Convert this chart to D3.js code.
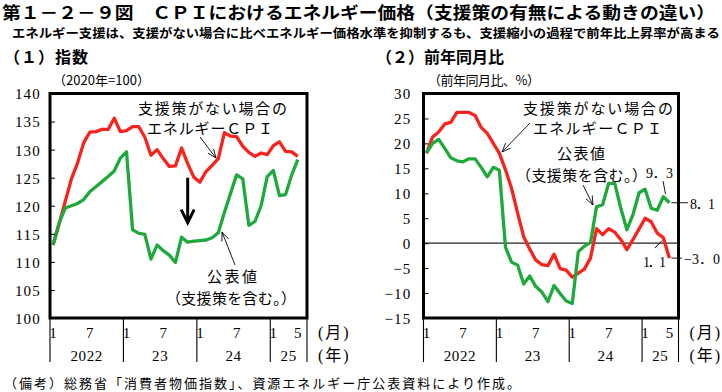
<!DOCTYPE html>
<html>
<head>
<meta charset="utf-8">
<script src="https://cdn.jsdelivr.net/npm/d3@7"></script>
<style>
  body { margin: 0; background: #fff; }
  svg text { font-family: "Noto Sans CJK JP", sans-serif; fill: #000; }
  .num { font-family: "Liberation Serif", "Noto Sans CJK JP", serif; }
</style>
</head>
<body>
<div id="chart"></div>
<script>
// axis categories: Jan 2022 .. Jun 2025 (data runs to May 2025)
const slotCount = 42;
const yearLabels = ["2022", "23", "24", "25"];
const yearStart = [0, 12, 24, 36];
const monthTicks = [[0, "1"], [6, "7"], [12, "1"], [18, "7"], [24, "1"], [30, "7"], [36, "1"], [40, "5"]];

// (1) index, 2020=100
const indexNoSupport = [
  113.0, 116.8, 120.8, 124.8, 127.6, 131.2, 133.1, 133.2, 133.6, 133.6, 135.6, 133.2,
  133.4, 134.1, 134.1, 132.2, 129.0, 130.0, 128.4, 127.0, 127.1, 130.3, 127.5, 125.1,
  124.2, 126.1, 127.2, 128.4, 133.0, 132.4, 132.3, 130.6, 129.5, 128.8, 129.4, 129.1,
  130.7, 131.4, 129.7, 129.6, 128.8
];
const indexOfficial = [
  113.0, 117.0, 119.6, 120.0, 120.4, 121.1, 122.5, 123.4, 124.3, 125.2, 126.2, 128.5,
  129.6, 115.7, 115.1, 114.9, 110.5, 113.0, 112.0, 111.2, 109.9, 114.4, 113.5, 113.7,
  113.8, 113.9, 114.3, 115.2, 118.8, 122.2, 125.5, 124.8, 116.5, 117.2, 120.0, 125.2,
  126.3, 121.8, 122.0, 125.5, 128.2
];
const indexTicks = [100, 105, 110, 115, 120, 125, 130, 135, 140];

// (2) year-on-year, %
const yoyNoSupport = [
  18.0, 21.3, 22.3, 23.9, 24.2, 26.2, 26.2, 26.2, 25.6, 23.2, 22.0, 20.0,
  18.0, 14.7, 11.0, 6.0, 1.3, -1.2, -3.4, -4.3, -4.5, -2.2, -5.1, -5.4,
  -6.8, -6.0, -5.2, -3.0, 2.9, 1.7, 2.9, 2.2, 0.7, -1.3, 0.7, 2.8,
  5.0, 4.3, 2.0, 1.1, -3.0
];
const yoyOfficial = [
  18.1, 20.0, 20.8, 19.0, 17.1, 16.5, 16.3, 16.9, 16.9, 15.2, 13.3, 15.2,
  14.6, -0.8, -3.8, -4.4, -8.2, -6.6, -8.7, -9.8, -11.7, -8.5, -10.1, -11.6,
  -12.1, -1.7, -0.6, 0.1, 7.3, 7.7, 12.0, 12.0, 7.0, 2.7, 5.7, 10.1,
  10.8, 7.0, 6.6, 9.3, 8.1
];
const yoyTicks = [-15, -10, -5, 0, 5, 10, 15, 20, 25, 30];

const RED = "#f7231c";
const GREEN = "#1fa83c";

const svg = d3.select("#chart")
  .append("svg")
  .attr("width", 722)
  .attr("height", 392);

svg.append("rect").attr("width", 722).attr("height", 392).attr("fill", "#fff");

const defs = svg.append("defs");
defs.append("marker")
  .attr("id", "open")
  .attr("viewBox", "0 -5 10 10")
  .attr("refX", 10)
  .attr("refY", 0)
  .attr("markerUnits", "userSpaceOnUse")
  .attr("markerWidth", 9)
  .attr("markerHeight", 9)
  .attr("orient", "auto")
  .append("path")
  .attr("d", "M0,-4L10,0L0,4")
  .attr("fill", "none")
  .attr("stroke", "#000")
  .attr("stroke-width", 0.9);

// headings
svg.append("text")
  .attr("x", 2).attr("y", 18.5)
  .attr("textLength", 713).attr("lengthAdjust", "spacingAndGlyphs")
  .style("font-size", "16.5px").style("font-weight", "bold")
  .text("第１－２－９図　ＣＰＩにおけるエネルギー価格（支援策の有無による動きの違い）");

svg.append("text")
  .attr("x", 12).attr("y", 37.5)
  .attr("textLength", 708).attr("lengthAdjust", "spacingAndGlyphs")
  .style("font-size", "12.5px").style("font-weight", "bold")
  .text("エネルギー支援は、支援がない場合に比べエネルギー価格水準を抑制するも、支援縮小の過程で前年比上昇率が高まる");

svg.append("text")
  .attr("x", 4).attr("y", 63)
  .attr("textLength", 84)
  .style("font-size", "16px").style("font-weight", "bold")
  .text("（１）指数");

svg.append("text")
  .attr("x", 376).attr("y", 63)
  .attr("textLength", 128)
  .style("font-size", "16px").style("font-weight", "bold")
  .text("（２）前年同月比");

svg.append("text")
  .attr("x", 53).attr("y", 85)
  .attr("textLength", 97)
  .style("font-size", "13px")
  .text("（2020年=100）");

svg.append("text")
  .attr("x", 428).attr("y", 85)
  .attr("textLength", 112)
  .style("font-size", "13px")
  .text("（前年同月比、%）");

svg.append("text")
  .attr("x", 4).attr("y", 388)
  .attr("textLength", 516)
  .style("font-size", "13px")
  .text("（備考）総務省「消費者物価指数」、資源エネルギー庁公表資料により作成。");

function drawPanel(cfg) {
  const g = svg.append("g");
  const x = d3.scaleBand().domain(d3.range(slotCount)).range([cfg.left, cfg.right]);
  const cx = i => x(i) + x.bandwidth() / 2;
  const y = d3.scaleLinear().domain(cfg.domain).range([318, 93.5]);

  if (cfg.zero) {
    g.append("line")
      .attr("x1", cfg.left).attr("x2", cfg.right)
      .attr("y1", y(0)).attr("y2", y(0))
      .attr("stroke", "#222").attr("stroke-width", 1.2);
  }

  const line = d3.line().x((d, i) => cx(i)).y(d => y(d));

  g.append("path")
    .datum(cfg.red)
    .attr("fill", "none")
    .attr("stroke", RED)
    .attr("stroke-width", 3.3)
    .attr("stroke-linejoin", "round")
    .attr("d", line);

  g.append("path")
    .datum(cfg.green)
    .attr("fill", "none")
    .attr("stroke", GREEN)
    .attr("stroke-width", 3.3)
    .attr("stroke-linejoin", "round")
    .attr("d", line);

  // y axis with inward ticks
  const yAxis = g.append("g")
    .attr("transform", `translate(${cfg.left},0)`)
    .call(d3.axisLeft(y)
      .tickValues(cfg.ticks)
      .tickSizeInner(-5)
      .tickSizeOuter(0)
      .tickPadding(cfg.pad)
      .tickFormat(d => d < 0 ? "−" + Math.abs(d) : d));
  yAxis.select(".domain").remove();
  yAxis.selectAll("line").attr("stroke", "#000").attr("stroke-width", 1);
  yAxis.selectAll("text")
    .attr("class", "num")
    .style("font-size", "15px")
    .style("letter-spacing", "1.2px")
    .attr("dy", "0.36em");

  // frame
  g.append("rect")
    .attr("x", cfg.left).attr("y", 93.5)
    .attr("width", cfg.right - cfg.left).attr("height", 318 - 93.5)
    .attr("fill", "none")
    .attr("stroke", "#000")
    .attr("stroke-width", 3);

  // year separators below axis
  const seps = yearStart.map(i => x(i)).concat([cfg.right]);
  g.selectAll(".sep")
    .data(seps)
    .join("line")
    .attr("class", "sep")
    .attr("x1", d => d).attr("x2", d => d)
    .attr("y1", 319).attr("y2", 362)
    .attr("stroke", "#000").attr("stroke-width", 1.1);

  g.selectAll(".mlab")
    .data(monthTicks)
    .join("text")
    .attr("class", "num mlab")
    .attr("x", d => cx(d[0]))
    .attr("y", 338)
    .attr("text-anchor", "middle")
    .style("font-size", "15px")
    .text(d => d[1]);

  g.selectAll(".ylab")
    .data(yearLabels)
    .join("text")
    .attr("class", "num ylab")
    .attr("x", (d, i) => (seps[i] + seps[i + 1]) / 2)
    .attr("y", 361)
    .attr("text-anchor", "middle")
    .style("font-size", "15px")
    .style("letter-spacing", "0.6px")
    .text(d => d);

  g.append("text")
    .attr("class", "num")
    .attr("x", cfg.right + 11).attr("y", 338)
    .style("font-size", "16px")
    .style("letter-spacing", "2px")
    .text("(月)");
  g.append("text")
    .attr("class", "num")
    .attr("x", cfg.right + 11).attr("y", 361)
    .style("font-size", "16px")
    .style("letter-spacing", "2px")
    .text("(年)");

  return { x: cx, y: y, g: g };
}

function label(g, x, y, len, txt, size) {
  g.append("text")
    .attr("x", x).attr("y", y)
    .attr("textLength", len)
    .style("font-size", (size || 15) + "px")
    .text(txt);
}

function arrow(g, x1, y1, x2, y2) {
  g.append("line")
    .attr("x1", x1).attr("y1", y1).attr("x2", x2).attr("y2", y2)
    .attr("stroke", "#000").attr("stroke-width", 0.9)
    .attr("marker-end", "url(#open)");
}

function leader(g, x1, y1, x2, y2) {
  g.append("line")
    .attr("x1", x1).attr("y1", y1).attr("x2", x2).attr("y2", y2)
    .attr("stroke", "#000").attr("stroke-width", 0.9);
}

// (1) index panel
const p1 = drawPanel({
  left: 50, right: 307, domain: [100, 140], ticks: indexTicks, pad: 9,
  red: indexNoSupport, green: indexOfficial, zero: false
});
label(p1.g, 138, 114, 149, "支援策がない場合の");
label(p1.g, 147, 134, 126, "エネルギーＣＰＩ");
arrow(p1.g, 200, 137, 216, 158);
label(p1.g, 207, 282, 50, "公表値");
label(p1.g, 166, 304, 130, "（支援策を含む。）");
arrow(p1.g, 235, 265, 222, 232);

// thick down arrow between the two index lines (Nov 2023)
const ax = p1.x(22);
p1.g.append("line")
  .attr("x1", ax).attr("x2", ax)
  .attr("y1", p1.y(125)).attr("y2", p1.y(117.2))
  .attr("stroke", "#000").attr("stroke-width", 3);
p1.g.append("polyline")
  .attr("points", [[ax - 6.5, p1.y(119.3)], [ax, p1.y(117)], [ax + 6.5, p1.y(119.3)]].map(p => p.join(",")).join(" "))
  .attr("fill", "none")
  .attr("stroke", "#000").attr("stroke-width", 3);

// (2) year-on-year panel
const p2 = drawPanel({
  left: 423.5, right: 678.5, domain: [-15, 30], ticks: yoyTicks, pad: 12,
  red: yoyNoSupport, green: yoyOfficial, zero: true
});
label(p2.g, 523, 114, 150, "支援策がない場合の");
label(p2.g, 533, 134, 129, "エネルギーＣＰＩ");
arrow(p2.g, 530, 123, 502, 152);
label(p2.g, 557, 159, 48, "公表値");
label(p2.g, 516, 181, 131, "（支援策を含む。）");
arrow(p2.g, 583, 185, 593, 205);

// end-point value labels
const last = yoyOfficial.length - 1;
leader(p2.g, 663, 181, 665.5, 194);
p2.g.append("text").attr("class", "num").attr("x", 646).attr("y", 178)
  .attr("textLength", 27).style("font-size", "14px").text("9．3");
leader(p2.g, p2.x(last) + 2, p2.y(8.1), 688, p2.y(8.1));
p2.g.append("text").attr("class", "num").attr("x", 690).attr("y", 209)
  .attr("textLength", 25).style("font-size", "14px").text("8．1");
leader(p2.g, 655, 248, 662, 240.5);
p2.g.append("text").attr("class", "num").attr("x", 643).attr("y", 267)
  .attr("textLength", 23).style("font-size", "14px").text("1．1");
leader(p2.g, p2.x(last) + 2, p2.y(-3.0), 682, p2.y(-3.0));
p2.g.append("text").attr("class", "num").attr("x", 684).attr("y", 264)
  .attr("textLength", 36).style("font-size", "14px").text("−3．0");
</script>
</body>
</html>
